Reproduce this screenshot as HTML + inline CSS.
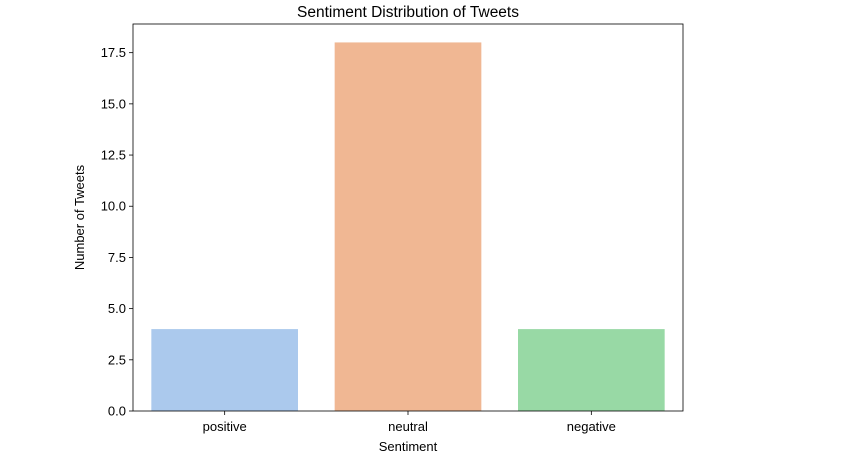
<!DOCTYPE html>
<html><head><meta charset="utf-8"><style>
body{margin:0;background:#fff;width:844px;height:455px;overflow:hidden}
text{font-family:"Liberation Sans","DejaVu Sans",sans-serif;fill:#000}
</style></head><body>
<svg id="chart" width="844" height="455"></svg>
<script>
const categories=["positive","neutral","negative"];
const counts=[4,18,4];
const colors=["#abc9ed","#f0b793","#98d9a5"];
const yTicks=[0,2.5,5,7.5,10,12.5,15,17.5];
const yTickLabels=["0.0","2.5","5.0","7.5","10.0","12.5","15.0","17.5"];
const L=133,R=683,T=24,B=411,yMax=18.9;
const svg=document.getElementById('chart');
const ns='http://www.w3.org/2000/svg';
function y(v){return B-(v/yMax)*(B-T);}
const band=(R-L)/categories.length;
function x(i){return L+band*i;}
function mk(t,a,txt){const e=document.createElementNS(ns,t);for(const k in a)e.setAttribute(k,a[k]);if(txt!==undefined)e.textContent=txt;svg.appendChild(e);return e;}
categories.forEach((c,i)=>{
  const b=mk('rect',{x:x(i)+band*0.1,y:y(counts[i]),width:band*0.8,height:B-y(counts[i]),fill:colors[i]});
  
  
  const cx=x(i)+band/2;
  mk('line',{x1:cx,x2:cx,y1:B,y2:B+4,stroke:'#000','stroke-width':0.8});
  const t=mk('text',{x:cx,y:B+20,'text-anchor':'middle','font-size':13},c);
  
  
});
yTicks.forEach((v,i)=>{
  mk('line',{x1:L-4,x2:L,y1:y(v),y2:y(v),stroke:'#000','stroke-width':0.8});
  const t=mk('text',{x:L-7,y:y(v)+4.5,'text-anchor':'end','font-size':13},yTickLabels[i]);
  
  
});
const f=mk('rect',{x:L,y:T,width:R-L,height:B-T,fill:'none',stroke:'#000','stroke-width':0.8});


const ti=mk('text',{x:(L+R)/2,y:17,'text-anchor':'middle','font-size':15.5},'Sentiment Distribution of Tweets');


const xt=mk('text',{x:(L+R)/2,y:451,'text-anchor':'middle','font-size':13},'Sentiment');


const yt=mk('text',{x:0,y:0,'text-anchor':'middle','font-size':13,transform:'translate(84,'+((T+B)/2)+') rotate(-90)'},'Number of Tweets');


</script>
</body></html>
